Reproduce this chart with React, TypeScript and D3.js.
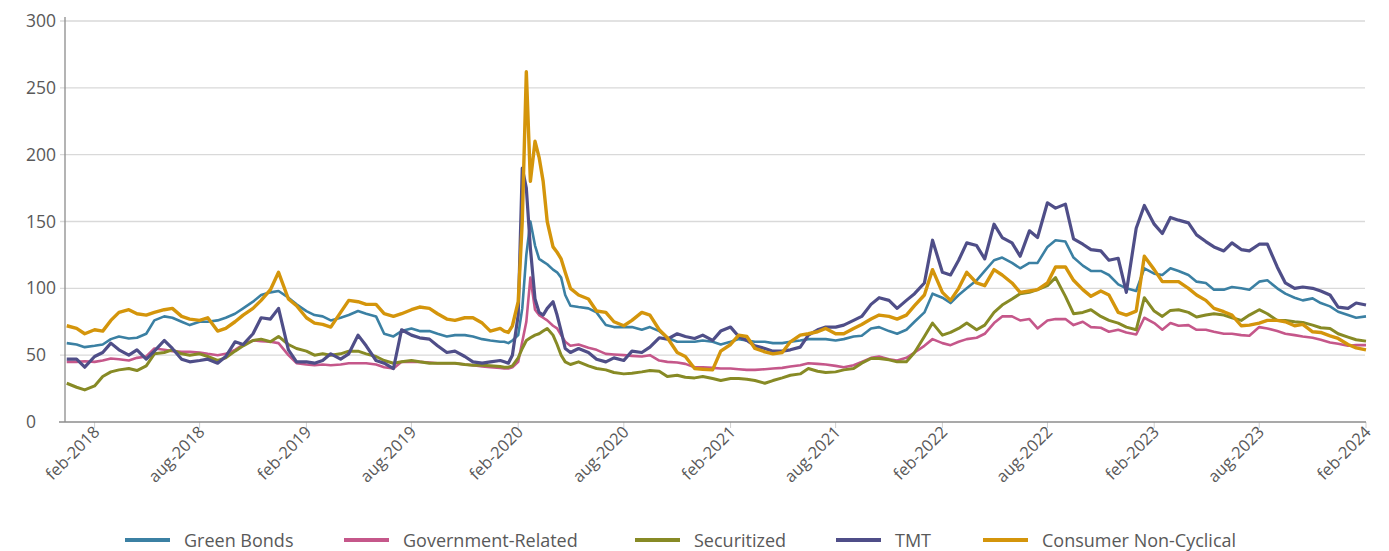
import React from "react";
import * as d3 from "d3";

// x grid: semi-monthly, weekly during Jan-Apr 2020
const buildDates = (): Date[] => {
  const out: Date[] = [new Date(2017, 11, 15)];
  for (let y = 2018; y <= 2024; y++) {
    for (let m = 0; m < 12; m++) {
      if (y === 2024 && m > 1) break;
      const days = y === 2020 && m < 4 ? [1, 8, 15, 22] : [1, 15];
      for (const d of days) {
        if (y === 2024 && m === 1 && d > 1) continue;
        out.push(new Date(y, m, d));
      }
    }
  }
  return out;
};
const dates = buildDates();

const greenBonds = [59,
  58, 56, 57, 58, 62, 64, 62.5, 63, 66, 76, 79, 78, 75, 72.5, 75, 75, 76, 78, 81, 85, 90, 95, 97, 98, 93, 88, 83, 80, 79,
  76, 78, 80, 83, 81, 79, 66, 64, 68, 70, 68, 68, 66, 64, 65, 65, 64, 62, 61,
  60, 60, 59, 61, 65, 85, 125, 150, 132, 122, 120, 118, 114, 112, 108, 95,
  87, 86, 85, 82, 72.5, 71, 71, 71, 69, 71, 68, 63, 60, 60, 60, 61, 60, 58, 60, 62, 61, 60, 60, 59, 59, 60, 61, 62, 62, 62, 61, 62,
  64, 64.5, 70, 71, 68, 66, 69, 75, 82, 96, 93, 89, 95, 100, 106, 113, 121, 123, 119, 115, 119, 119, 131, 136, 135, 123, 117, 113, 113,
  110, 103, 100, 98, 115, 111, 110, 115, 113, 110, 105, 104, 99, 99, 101, 100, 99, 105, 106, 100, 96, 93, 91, 92.5, 89, 86.5, 82.5, 80, 78, 79];

const governmentRelated = [45,
  45, 45.5, 45, 46, 47.5, 47, 46, 48, 49, 55, 54, 53, 52.5, 52.5, 52, 51, 50, 51, 54, 58, 61, 60.5, 60, 59, 50, 44, 43, 42.5, 43,
  42.5, 43, 44, 44, 44, 43, 41, 40, 45, 45, 45, 44.5, 44, 44, 44, 43, 42.5, 41.5, 41,
  40.5, 40, 40, 41, 45, 60, 75, 108, 84, 80, 78, 76, 72, 70, 65, 60,
  57, 58, 55.5, 54, 51, 50.5, 50, 49.5, 49, 50, 46, 45, 44.5, 43.5, 41, 41, 40.5, 40, 40, 39.5, 39, 39, 39.5, 40, 40.5, 41.5, 42.5, 44, 43.5, 43, 42, 41,
  42.5, 45, 48, 49, 47, 46, 48, 52, 57, 62, 59, 57.5, 60, 62, 63, 66, 74, 79, 79, 76, 77, 70, 76, 77, 77, 72.5, 75, 71, 70.5,
  67.5, 69, 67, 65.5, 78, 74, 69, 74, 72, 72.5, 69, 69, 67.5, 66, 66, 65, 64.5, 71, 70, 68, 66, 65, 64, 63, 61.5, 59.5, 58.5, 57, 57.5, 57.5];

const securitized = [29,
  26, 24, 27, 34, 37.5, 39, 40, 38.5, 42, 51, 52, 54, 51, 50, 51, 49, 46, 48, 53, 57, 61, 62, 60, 64, 58, 55, 53, 50, 51,
  50, 51, 53, 53, 51, 49, 46, 44, 45, 46, 45, 44, 44, 44, 44, 43, 42.5, 42.5, 42,
  41.5, 41, 41, 42, 48, 55, 61, 63, 65, 66, 68, 70, 65, 58, 50, 45,
  43, 45, 42, 40, 39, 37, 36, 36.5, 37.5, 38.5, 38, 34, 35, 33.5, 33, 34, 32.5, 31, 32.5, 32.5, 32, 31, 29, 31, 33, 35, 36, 40, 38, 37, 37.5, 39,
  40, 44, 47.5, 47.5, 46.5, 45, 45, 52, 64, 74, 65, 67, 70, 74, 69, 72.5, 82, 87.5, 92, 96, 97, 99, 102, 108, 94, 81, 82, 84, 79,
  76, 74, 71, 69, 93, 83, 79, 83.5, 84, 82, 78.5, 80, 81, 80, 78, 76, 80, 84, 81, 76, 76, 75, 74.5, 72.5, 70.5, 70, 66, 63.5, 61.5, 60.5];

const tmt = [47,
  47, 41, 49, 52, 59, 54, 50, 54, 47, 53, 61, 55, 47, 45, 46, 47, 44, 49, 60, 58, 66, 78, 77, 85, 54, 45, 45, 44, 46,
  51, 47, 51, 65, 57, 46, 44, 40, 69, 65, 63, 62, 57, 52, 53, 49, 45, 44, 45,
  46, 45, 44, 50, 80, 190, 175, 130, 92, 82, 80, 85, 90, 80, 68, 55,
  52, 55, 52, 47, 45, 48, 46, 53, 52, 56, 63, 62, 66, 64, 62.5, 65, 61, 68, 71, 64, 61, 57, 55, 53, 53, 54, 56, 65, 69, 71, 71, 72.5,
  76, 79, 88, 93, 91, 85, 91, 96, 104, 136, 112, 110, 121, 134, 132, 122, 148, 138, 134, 124, 143, 138, 164, 160, 163, 137, 133, 129, 128,
  121, 122.5, 97, 145, 162, 148, 141, 153, 151, 149, 140, 135, 131, 128, 134, 129, 128, 133, 133, 116, 104, 100, 101, 100, 98, 95, 86, 85, 89, 87.5];

const consumerNonCyclical = [72,
  70, 66, 69, 68, 76, 82, 84, 81, 80, 82, 84, 85, 79, 77, 76, 78, 68, 70, 75, 80, 85, 91, 99, 112, 92, 87, 78, 74, 73,
  71, 82, 91, 90, 88, 88, 81, 79, 81, 84, 86, 85, 81, 77, 76, 78, 78, 74, 68,
  70, 68, 67, 72, 90, 150, 262, 180, 210, 198, 180, 150, 131, 127, 122, 112,
  100, 95, 92, 83, 82, 75, 72, 76, 82, 80, 69, 63, 52, 49, 40, 39.5, 39, 53, 58, 65, 64, 55, 52.5, 51, 52, 60, 65, 66, 67.5, 70, 66, 66,
  70, 73, 77, 80, 79, 77, 80, 87, 95, 114, 97, 91, 100, 112, 104, 102, 114, 110, 104, 97, 98, 99, 104, 116, 116, 106, 99, 94, 98,
  95, 82, 80, 83, 124, 114, 105, 105, 105, 100, 95, 91, 85, 82.5, 80, 72, 72.5, 74, 76, 76, 75, 72, 73, 67.5, 67, 64.5, 62.5, 58, 55.5, 54];

const yTicks = [0, 50, 100, 150, 200, 250, 300];
const tickMonths = ["feb", "aug"];

const series = [
  { name: "Green Bonds", values: greenBonds, color: "#3b80a3", width: 2.6 },
  { name: "Government-Related", values: governmentRelated, color: "#c5578a", width: 2.6 },
  { name: "Securitized", values: securitized, color: "#878a25", width: 3 },
  { name: "TMT", values: tmt, color: "#4f4e88", width: 3.2 },
  { name: "Consumer Non-Cyclical", values: consumerNonCyclical, color: "#d4950b", width: 3.4 },
];

const W = 1389;
const H = 551;
const left = 65;
const right = 1366;
const top = 21;
const bottom = 422;
const FONT = "'Open Sans', 'Noto Sans', sans-serif";

export default function App() {
  const x = d3.scaleTime().domain([new Date(2017, 11, 12), new Date(2024, 1, 1)]).range([left, right]);
  const y = d3.scaleLinear().domain([0, 300]).range([bottom, top]);
  const xTicks: Date[] = [];
  for (let yr = 2018; yr <= 2024; yr++) {
    xTicks.push(new Date(yr, 1, 1));
    if (yr < 2024) xTicks.push(new Date(yr, 7, 1));
  }
  const fmt = (d: Date) => `${tickMonths[d.getMonth() === 1 ? 0 : 1]}-${d.getFullYear()}`;

  const legendX = [125, 344, 635, 836, 983];

  return (
    <svg width={W} height={H} style={{ position: "absolute", left: 0, top: 0, background: "#fff" }} fontFamily={FONT}>
      {yTicks.map((t) => (
        <g key={t}>
          {t > 0 && <line x1={left - 5} x2={right - 1} y1={y(t)} y2={y(t)} stroke="#d9d9d9" strokeWidth={1.3} />}
          <text x={26} y={y(t) + 6} fontSize={17.5} fill="#595959">{t}</text>
        </g>
      ))}
      {xTicks.map((d, i) => (
        <g key={i}>
          <line x1={x(d)} x2={x(d)} y1={bottom} y2={bottom + 6} stroke="#d0d0d0" strokeWidth={1} />
          <text transform={`translate(${x(d) + 6},${bottom + 11}) rotate(-45)`} textAnchor="end" fontSize={16.5} fill="#595959">
            {fmt(d)}
          </text>
        </g>
      ))}
      <line x1={left} x2={left} y1={top - 4} y2={bottom} stroke="#8c8c8c" strokeWidth={1.3} />
      <line x1={left - 6} x2={right} y1={bottom} y2={bottom} stroke="#8c8c8c" strokeWidth={1.3} />
      {series.map((s) => {
        const line = d3
          .line<number>()
          .x((_, i) => x(dates[i]))
          .y((v) => y(v));
        return (
          <path key={s.name} d={line(s.values) || ""} fill="none" stroke={s.color} strokeWidth={s.width} strokeLinejoin="round" />
        );
      })}
      {series.map((s, i) => (
        <g key={s.name} transform={`translate(${legendX[i]},540)`}>
          <line x1={0} x2={45} y1={0} y2={0} stroke={s.color} strokeWidth={4} />
          <text x={59} y={6.5} fontSize={18} fill="#595959">{s.name}</text>
        </g>
      ))}
    </svg>
  );
}
